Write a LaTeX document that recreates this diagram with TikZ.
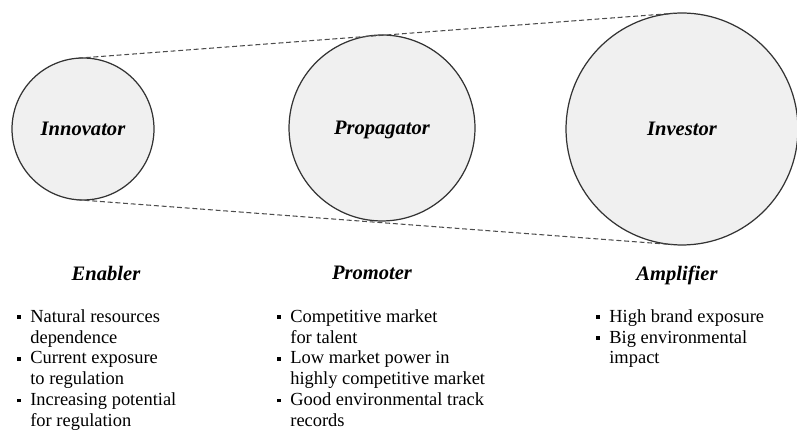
\documentclass[tikz,border=0pt]{standalone}
\usepackage{fontspec}
\setmainfont{Liberation Serif}
\usetikzlibrary{positioning}

% square bullet and the matching hanging indent
\newcommand{\sqbul}{\makebox[7.4pt][l]{\raisebox{0.4ex}{\rule{2pt}{2pt}}}}
\newcommand{\hang}{\hspace*{7.4pt}}

\begin{document}
\begin{tikzpicture}[x=0.02cm,y=-0.02cm,
    role style/.style={circle,draw=black!80,line width=0.7pt,fill=black!6,
      inner sep=0pt,outer sep=0pt,text height=1.6ex,text depth=0ex,
      font=\fontsize{11.7}{14}\selectfont\bfseries\itshape},
    head style/.style={inner sep=0pt,font=\fontsize{11.7}{14}\selectfont\bfseries\itshape},
    list style/.style={anchor=north west,align=left,inner sep=0pt,
      font=\fontsize{10.5}{11.9}\selectfont},
    link style/.style={black!70,line width=0.6pt,dash pattern=on 2.8pt off 1.6pt}
    ]
    \useasboundingbox (0,0) rectangle (797,431);

    % the three roles
    \node[role style,minimum size=2.84cm] (inn) at (83,129) {Innovator};
    \node[role style,minimum size=3.72cm] (prop) at (382,128) {Propagator};
    \node[role style,minimum size=4.64cm] (inv) at (682,129) {Investor};

    % outer tangents
    \draw[link style] (inn.94.31) -- (inv.94.31);
    \draw[link style] (inn.265.69) -- (inv.265.69);

    % headings
    \node[head style] (enab) at (106,273) {Enabler};
    \node[head style] (prom) at (372,273) {Promoter};
    \node[head style] (ampl) at (677,275) {Amplifier};

    % lists
    \node[list style] (enablist) at (17,309) {%
      \sqbul Natural resources\\ \hang dependence\\
      \sqbul Current exposure\\ \hang to regulation\\
      \sqbul Increasing potential\\ \hang for regulation};
    \node[list style] (promlist) at (277,309) {%
      \sqbul Competitive market\\ \hang for talent\\
      \sqbul Low market power in\\ \hang highly competitive market\\
      \sqbul Good environmental track\\ \hang records};
    \node[list style] (ampllist) at (596,309) {%
      \sqbul High brand exposure\\
      \sqbul Big environmental\\ \hang impact};
\end{tikzpicture}
\end{document}
